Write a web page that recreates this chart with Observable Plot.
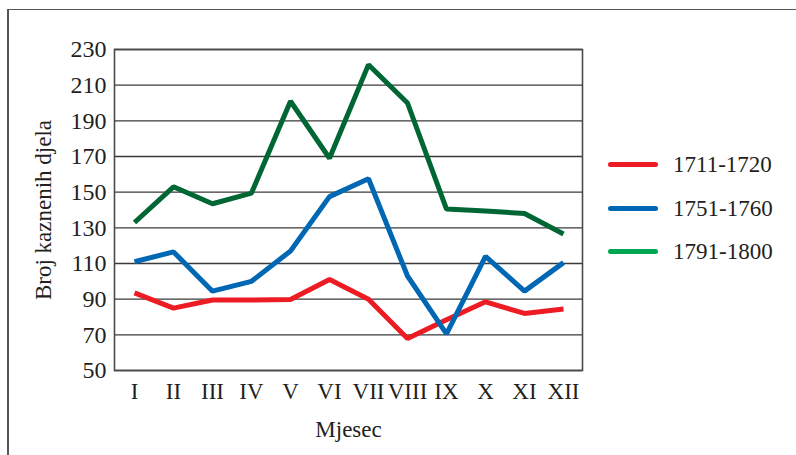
<!DOCTYPE html>
<html>
<head>
<meta charset="utf-8">
<script src="https://cdn.jsdelivr.net/npm/d3@7"></script>
<script src="https://cdn.jsdelivr.net/npm/@observablehq/plot@0.6"></script>
<style>
  html, body { margin: 0; padding: 0; background: #fff; overflow: hidden; }
  #wrap { position: relative; width: 796px; height: 455px; font-family: "Liberation Serif", "Times New Roman", serif; color: #231f20; }
  #border { position: absolute; left: 7px; top: 9px; width: 900px; height: 600px; border-top: 1.6px solid #555; border-left: 2px solid #555; }
  #chart { position: absolute; left: 0; top: 0; }
  #legend { position: absolute; left: 608px; top: 143px; }
  .row { display: flex; align-items: center; height: 43.5px; }
  .sw { display: inline-block; width: 50px; height: 5px; border-radius: 3px; }
  .lbl { margin-left: 15px; font-size: 23px; line-height: 1; }
</style>
</head>
<body>
<div id="wrap">
  <div id="border"></div>
  <div id="chart"></div>
  <div id="legend"></div>
</div>
<script>
const months = ["I","II","III","IV","V","VI","VII","VIII","IX","X","XI","XII"];
const series = ["1711-1720","1751-1760","1791-1800"];
const v1711 = [93.5, 85, 89.5, 89.5, 89.8, 101, 90, 68, 78.5, 88.5, 82, 84.5];
const v1751 = [111, 116.5, 94.5, 100, 117, 147.5, 157.5, 103, 70.5, 114, 94.5, 110.5];
const v1791 = [133, 153, 143.5, 149.5, 201, 169, 221.5, 200, 140.5, 139.5, 138, 126.5];
const yTicks = [50, 70, 90, 110, 130, 150, 170, 190, 210, 230];
const lineColors = ["#ed1c24", "#0067b4", "#006633"];
const legendColors = ["#ed1c24", "#0067b4", "#00a651"];
const yLabel = "Broj kaznenih djela";
const xLabel = "Mjesec";

const values = [v1711, v1751, v1791];
const rows = series.flatMap((s, i) => months.map((m, j) => ({series: s, month: m, value: values[i][j]})));

const chart = Plot.plot({
  width: 796,
  height: 455,
  marginLeft: 114,
  marginRight: 214,
  marginTop: 49,
  marginBottom: 85,
  style: {fontFamily: "'Liberation Serif', 'Times New Roman', serif", background: "transparent", color: "#231f20", fontSize: "23px"},
  x: {type: "point", domain: months, padding: 0.5, label: null},
  y: {domain: [50, 230], label: null},
  color: {domain: series, range: lineColors},
  marks: [
    Plot.gridY(yTicks, {stroke: "#3a3a3a", strokeOpacity: 1, strokeWidth: 1.3}),
    Plot.frame({stroke: "#4a4a4a", strokeWidth: 1.6}),
    Plot.axisY(yTicks, {tickSize: 0, tickPadding: 8, fontSize: 24, label: null}),
    Plot.axisX({tickSize: 0, tickPadding: 12, fontSize: 23, label: null}),
    Plot.line(rows, {x: "month", y: "value", z: "series", stroke: "series", strokeWidth: 5, strokeLinejoin: "miter", strokeLinecap: "butt"}),
    Plot.text([yLabel], {text: d => d, frameAnchor: "left", textAnchor: "middle", rotate: -90, dx: -71, fontSize: 23}),
    Plot.text([xLabel], {text: d => d, frameAnchor: "bottom", dy: 66, fontSize: 23})
  ]
});
document.getElementById("chart").appendChild(chart);

const legend = document.getElementById("legend");
series.forEach((s, i) => {
  const row = document.createElement("div");
  row.className = "row";
  const sw = document.createElement("span");
  sw.className = "sw";
  sw.style.background = legendColors[i];
  const lbl = document.createElement("span");
  lbl.className = "lbl";
  lbl.textContent = s;
  row.appendChild(sw);
  row.appendChild(lbl);
  legend.appendChild(row);
});
</script>
</body>
</html>
